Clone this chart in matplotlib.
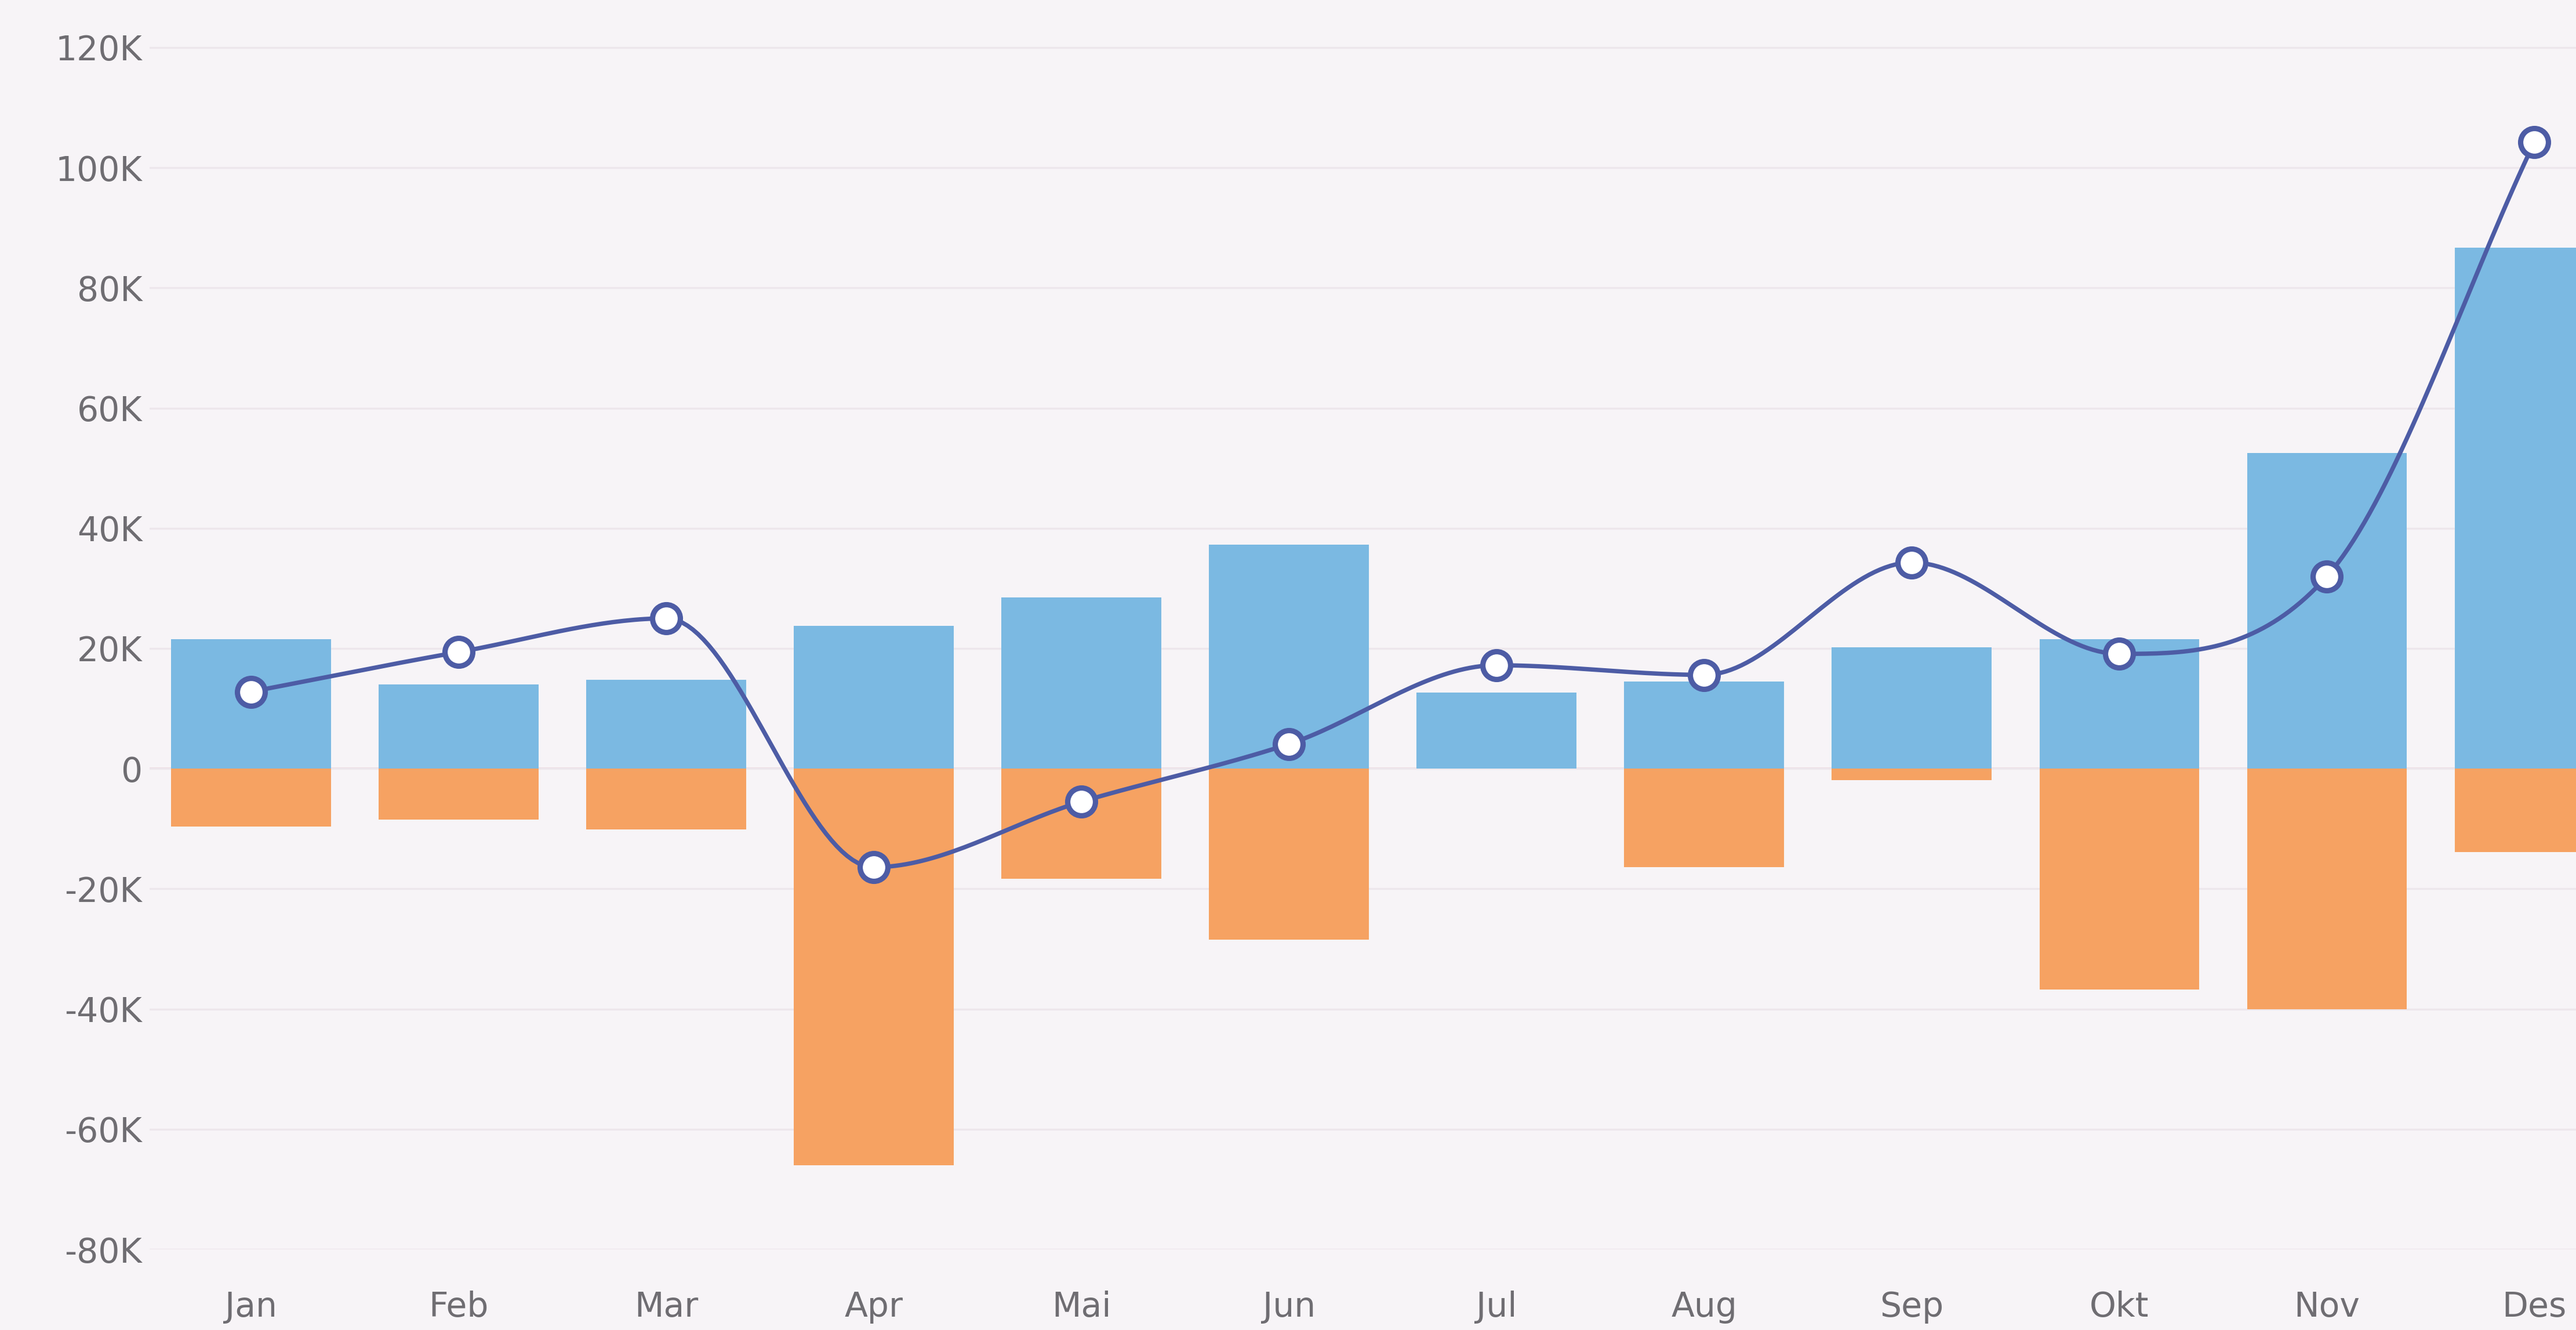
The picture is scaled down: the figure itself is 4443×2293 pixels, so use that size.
import numpy as np
import matplotlib
matplotlib.use("Agg")
import matplotlib.pyplot as plt
from matplotlib.ticker import FuncFormatter

## Data

months = ['Jan', 'Feb', 'Mar', 'Apr', 'Mai', 'Jun', 'Jul', 'Aug', 'Sep', 'Okt', 'Nov', 'Des']

# positive bars (blue)
inflow = [21500, 14000, 14800, 23800, 28500, 37300, 12700, 14500, 20200, 21500, 52500, 86700]
# negative bars (orange)
outflow = [-9600, -8500, -10100, -66000, -18300, -28500, 0, -16400, -1900, -36800, -40000, -13900]
# smoothed line
net = [12800, 19400, 25000, -16400, -5500, 4100, 17200, 15600, 34300, 19100, 32000, 104300]

yticks = [-80000, -60000, -40000, -20000, 0, 20000, 40000, 60000, 80000, 100000, 120000]

bg = '#f7f4f7'
blue = '#7bb9e2'
orange = '#f6a262'
line_col = '#4d5ca5'
text_col = '#6f6d72'


def monotone_x(x, y, n=40):
    # monotone cubic interpolation (Fritsch-Carlson), like d3.curveMonotoneX
    x = np.asarray(x, float)
    y = np.asarray(y, float)
    h = np.diff(x)
    d = np.diff(y) / h
    m = np.zeros_like(y)
    m[0], m[-1] = d[0], d[-1]
    for i in range(1, len(y) - 1):
        if d[i - 1] * d[i] <= 0:
            m[i] = 0
        else:
            s = (d[i - 1] * h[i] + d[i] * h[i - 1]) / (h[i - 1] + h[i])
            m[i] = np.sign(s) * min(abs(s), 3 * min(abs(d[i - 1]), abs(d[i])))
    xs, ys = [], []
    for i in range(len(x) - 1):
        t = np.linspace(0, 1, n)
        h00 = 2 * t**3 - 3 * t**2 + 1
        h10 = t**3 - 2 * t**2 + t
        h01 = -2 * t**3 + 3 * t**2
        h11 = t**3 - t**2
        xs.append(x[i] + t * h[i])
        ys.append(h00 * y[i] + h10 * h[i] * m[i] + h01 * y[i + 1] + h11 * h[i] * m[i + 1])
    return np.concatenate(xs), np.concatenate(ys)


x = np.arange(len(months))

fig = plt.figure(figsize=(4443 / 300, 2293 / 300), dpi=300, facecolor=bg)
ax = fig.add_axes([0.058, 0.0606, 0.942, 0.9394])
ax.set_facecolor(bg)

ax.bar(x, inflow, width=0.77, color=blue, zorder=2)
ax.bar(x, outflow, width=0.77, color=orange, zorder=2)

sx, sy = monotone_x(x, net)
ax.plot(sx, sy, color=line_col, lw=1.8, zorder=3, solid_capstyle='round')
ax.plot(x, net, ls='none', marker='o', ms=11.5, mfc='white', mec=line_col, mew=2.2, zorder=4)

ax.axhline(0, color='#ecd9e0', lw=0.9, zorder=1)

ax.set_xlim(-0.49, 11.2)
ax.set_ylim(-80000, 127900)
ax.set_yticks(yticks)
ax.yaxis.set_major_formatter(FuncFormatter(lambda v, p: '0' if v == 0 else f'{int(v / 1000)}K'))
ax.set_xticks(x)
ax.set_xticklabels(months)

ax.grid(axis='y', color='#ede7ec', lw=0.8, zorder=0)
for s in ax.spines.values():
    s.set_visible(False)
ax.tick_params(axis='both', length=0, colors=text_col, labelsize=14)
ax.tick_params(axis='y', pad=3)
ax.tick_params(axis='x', pad=17)

fig.savefig('out.png', dpi=300, facecolor=bg)
